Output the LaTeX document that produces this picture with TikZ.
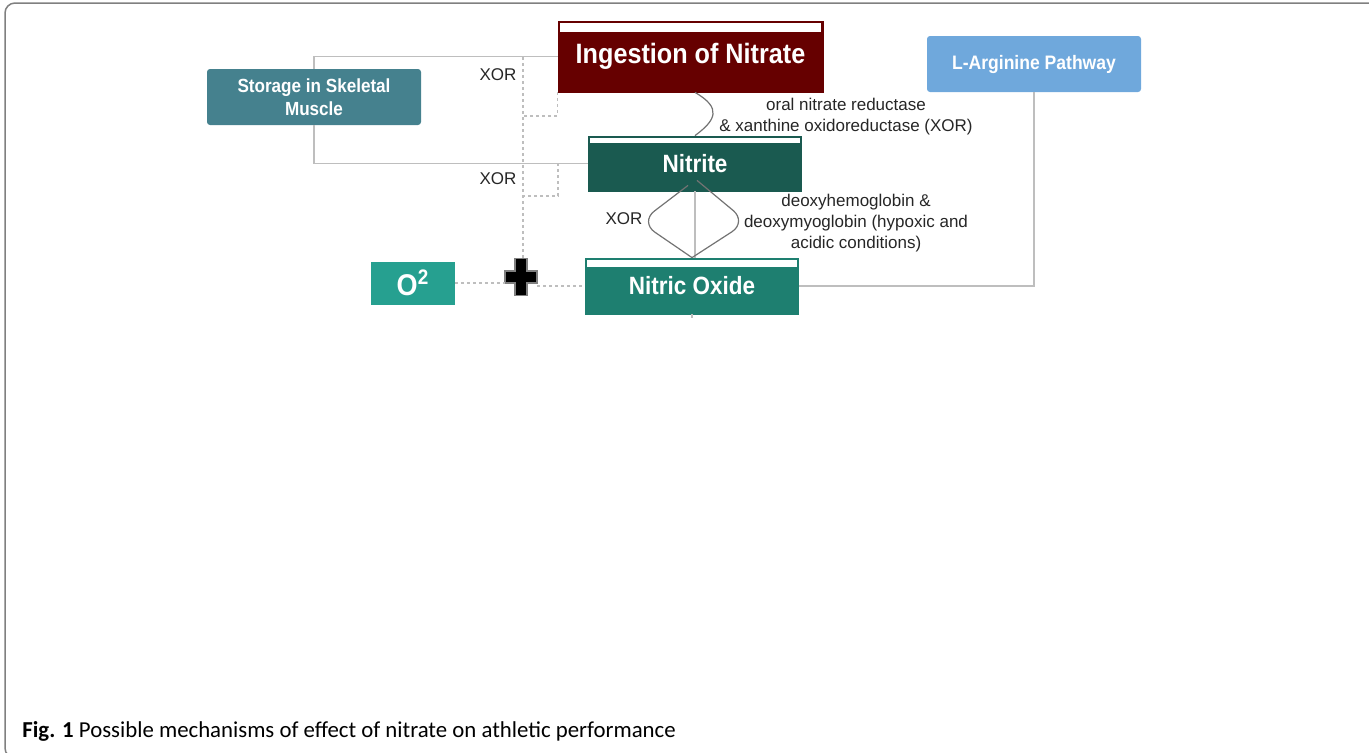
\documentclass[tikz,border=0pt]{standalone}
\usepackage{fontspec}
\setmainfont{Liberation Sans}
\newfontfamily\boxfont[FakeStretch=0.9]{Liberation Sans}
\newfontfamily\capfont{Carlito}
\usepackage{tikz}
\usetikzlibrary{calc}
\usepackage{xcolor}
\definecolor{NitrateRed}{RGB}{102,0,0}
\definecolor{StorageTeal}{RGB}{69,129,142}
\definecolor{ArginineBlue}{RGB}{111,168,220}
\definecolor{NitriteGreen}{RGB}{26,90,80}
\definecolor{OxideGreen}{RGB}{30,127,112}
\definecolor{OxygenGreen}{RGB}{38,160,144}
\definecolor{LinkGray}{RGB}{190,190,190}
\definecolor{CurveGray}{RGB}{115,115,115}
\definecolor{FrameGray}{RGB}{128,128,128}

\begin{document}
\begin{tikzpicture}[x=0.5pt, y=-0.5pt,
    stage/.style={rectangle, draw=#1, fill=#1, inner sep=0pt, text=white, align=center},
    strip/.style={path picture={\fill[white]
        ([shift={(0.8pt,-0.8pt)}]path picture bounding box.north west) rectangle
        ([shift={(-0.8pt,-#1)}]path picture bounding box.north east);}},
    sidebox/.style={rectangle, fill=#1, rounded corners=1.5pt, inner sep=0pt,
                    text=white, align=center},
    link/.style={draw=LinkGray, line width=0.75pt},
    xorlink/.style={draw=LinkGray, line width=0.6pt, dash pattern=on 1.5pt off 1.5pt},
    curve/.style={draw=CurveGray, line width=0.6pt},
    note/.style={font=\fontsize{8.5pt}{10.5pt}\selectfont, align=center,
                 text=black!85, inner sep=0pt}
]
    \useasboundingbox (0,0) rectangle (1369,752);

    % frame
    \begin{scope}
        \clip (0,0) rectangle (1369,752);
        \draw[FrameGray, line width=0.75pt, rounded corners=5pt] (5,3) rectangle (1400,758);
    \end{scope}

    % boxes
    \node[stage=NitrateRed, strip=5.5pt, minimum width=132.5pt, minimum height=35.5pt,
          font=\boxfont\bfseries\fontsize{14pt}{16pt}\selectfont] (ingestion) at (690.5,56.5) {Ingestion of Nitrate};
    \node[sidebox=StorageTeal, minimum width=107pt, minimum height=28pt,
          font=\boxfont\bfseries\fontsize{9.5pt}{11.5pt}\selectfont] (storage) at (314,97) {Storage in Skeletal\\Muscle};
    \node[sidebox=ArginineBlue, minimum width=107pt, minimum height=28pt,
          font=\boxfont\bfseries\fontsize{9.75pt}{11.5pt}\selectfont] (arginine) at (1034,64) {L-Arginine Pathway};
    \node[stage=NitriteGreen, strip=3.5pt, minimum width=106.5pt, minimum height=27.5pt,
          font=\boxfont\bfseries\fontsize{12.5pt}{14pt}\selectfont] (nitrite) at (695,163.5) {Nitrite};
    \node[stage=OxideGreen, strip=4.5pt, minimum width=106.5pt, minimum height=28pt,
          font=\boxfont\bfseries\fontsize{12.5pt}{14pt}\selectfont] (oxide) at (692,286) {Nitric Oxide};
    \node[stage=OxygenGreen, minimum width=41.5pt, minimum height=21pt,
          font=\boxfont\bfseries\fontsize{15pt}{17pt}\selectfont] (oxygen) at (413,283) {O\textsuperscript{2}};
    \node[inner sep=0pt, minimum width=16pt, minimum height=18.5pt] (plus) at (521,277) {};
    \fill[black, draw=gray, line width=0.6pt] (plus) ++(-6,-18.5) -- ++(12,0) -- ++(0,12.5)
        -- ++(10,0) -- ++(0,12) -- ++(-10,0) -- ++(0,12.5) -- ++(-12,0) -- ++(0,-12.5)
        -- ++(-10,0) -- ++(0,-12) -- ++(10,0) -- cycle;

    % labels
    \node[note] (xorone) at (498,75) {XOR};
    \node[note] (xortwo) at (498,179) {XOR};
    \node[note] (xorthree) at (624,219) {XOR};
    \node[note] (reductase) at (846,116.5) {oral nitrate reductase\\\& xanthine oxidoreductase (XOR)};
    \node[note] (globin) at (856,223) {deoxyhemoglobin \&\\deoxymyoglobin (hypoxic and\\acidic conditions)};

    % connectors
    \draw[link] (storage.north) |- (ingestion.west);
    \draw[link] (storage.south) |- (nitrite.west);
    \draw[link] (arginine.south) |- (oxide.east);
    \draw[link] (nitrite.south) -- (nitrite.south |- oxide.north);
    \coordinate (oxidestub) at ($(oxide.south)+(0,4)$);
    \draw[link] (oxide.south) -- (oxidestub);

    \draw[curve] (nitrite.north |- ingestion.south) .. controls (722,108) and (716,120) .. (nitrite.north);
    \draw[curve, rounded corners=9pt] ($(nitrite.south)+(-7,-6)$) -- (640,222) -- (oxide.north);
    \draw[curve, rounded corners=9pt] ($(nitrite.south)+(2,-11)$) -- (747,222) -- (oxide.north);

    \coordinate (xortop) at (523,57);
    \coordinate (xormid) at (523,116);
    \coordinate (xorlow) at (523,196);
    \coordinate (splitlow) at (558,163);
    \draw[xorlink] (xortop) -- (xortop |- plus.north);
    \draw[xorlink] (ingestion.south west) |- (xormid);
    \draw[xorlink] (splitlow) |- (xorlow);
    \draw[xorlink] (oxygen.east) -- (oxygen.east -| plus.west);
    \draw[xorlink] (plus.east |- oxide.west) -- (oxide.west);

    % caption
    \node[anchor=base west, inner sep=0pt, font=\capfont\fontsize{11.4pt}{13pt}\selectfont] (caption) at (22,737)
        {\textbf{Fig. 1} Possible mechanisms of effect of nitrate on athletic performance};
\end{tikzpicture}
\end{document}
